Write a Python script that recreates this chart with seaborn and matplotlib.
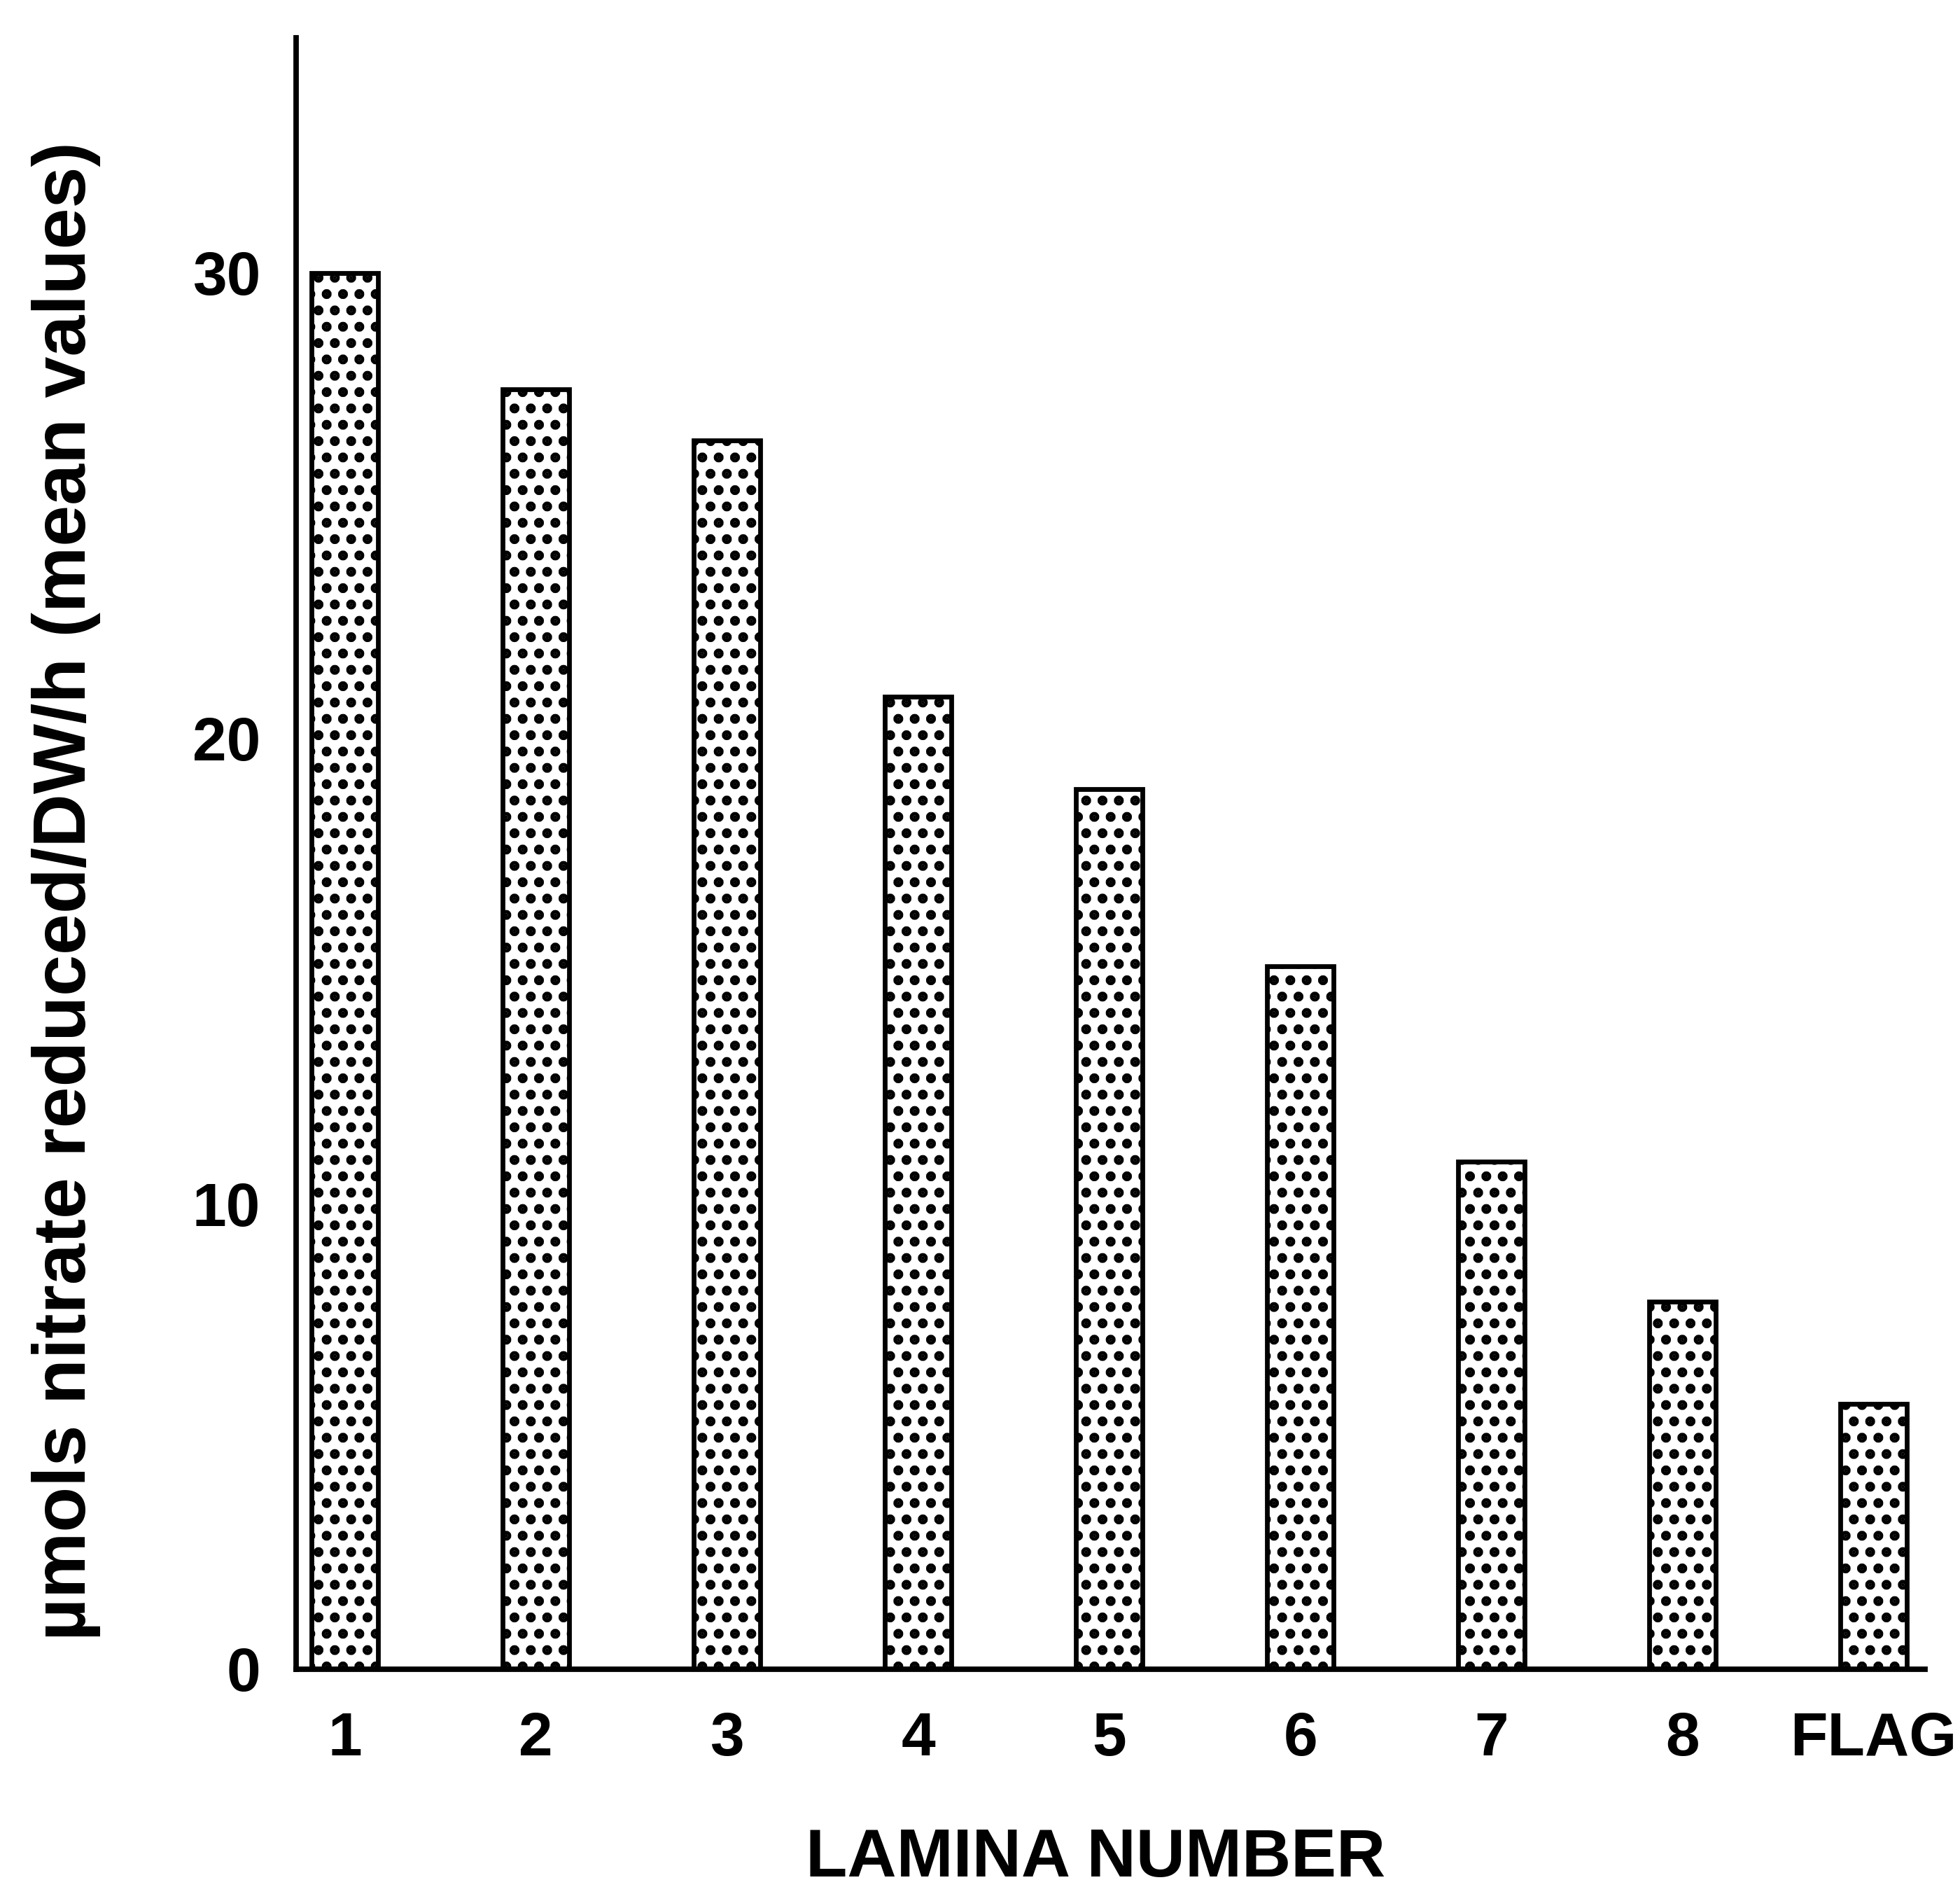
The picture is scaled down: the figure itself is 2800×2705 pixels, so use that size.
import matplotlib
matplotlib.use("Agg")
import matplotlib.pyplot as plt
import seaborn as sns

# lamina number vs nitrate reductase activity
laminas = ["1", "2", "3", "4", "5", "6", "7", "8", "FLAG"]
activity = [30.0, 27.5, 26.4, 20.9, 18.9, 15.1, 10.9, 7.9, 5.7]
y_ticks = [0, 10, 20, 30]

sns.set_style("white")
plt.rcParams['font.family'] = ['Liberation Sans', 'DejaVu Sans']
plt.rcParams['font.weight'] = 'bold'
plt.rcParams['text.color'] = 'black'
plt.rcParams['axes.labelcolor'] = 'black'
plt.rcParams['xtick.color'] = 'black'
plt.rcParams['ytick.color'] = 'black'
plt.rcParams['hatch.linewidth'] = 4.8
plt.rcParams['hatch.color'] = 'black'

dpi = 140
fig = plt.figure(figsize=(2800 / dpi, 2705 / dpi), dpi=dpi)
ax = fig.add_axes([0.151, 0.1187, 0.831, 0.8614])

sns.barplot(x=laminas, y=activity, color='white', edgecolor='black',
            linewidth=3.5, hatch='.', width=0.35, ax=ax)
# dotted fill: fatter dots like the printed screen
for bar in ax.patches:
    if hasattr(bar, 'set_hatch_linewidth'):
        bar.set_hatch_linewidth(4.8)

ax.set_xlim(-0.256, 8.267)
ax.set_ylim(0, 35.05)
ax.set_yticks(y_ticks)
ax.tick_params(axis='both', length=0, labelsize=45, colors='black')
ax.tick_params(axis='x', pad=31)
ax.tick_params(axis='y', pad=26)
for lab in ax.get_xticklabels() + ax.get_yticklabels():
    lab.set_fontweight('bold')

sns.despine(ax=ax)
for side in ['left', 'bottom']:
    ax.spines[side].set_linewidth(4)
    ax.spines[side].set_color('black')

ax.set_xlabel('LAMINA NUMBER', fontsize=50, fontweight='bold', labelpad=0)
ax.xaxis.set_label_coords(0.491, -0.127)
ax.xaxis.label.set_va('baseline')
ax.set_ylabel('\u00b5mols nitrate reduced/DW/h (mean values)', fontsize=54.5,
              fontweight='bold')
ax.yaxis.set_label_coords(-0.120, 0.477)

fig.savefig('out.png', dpi=dpi)
